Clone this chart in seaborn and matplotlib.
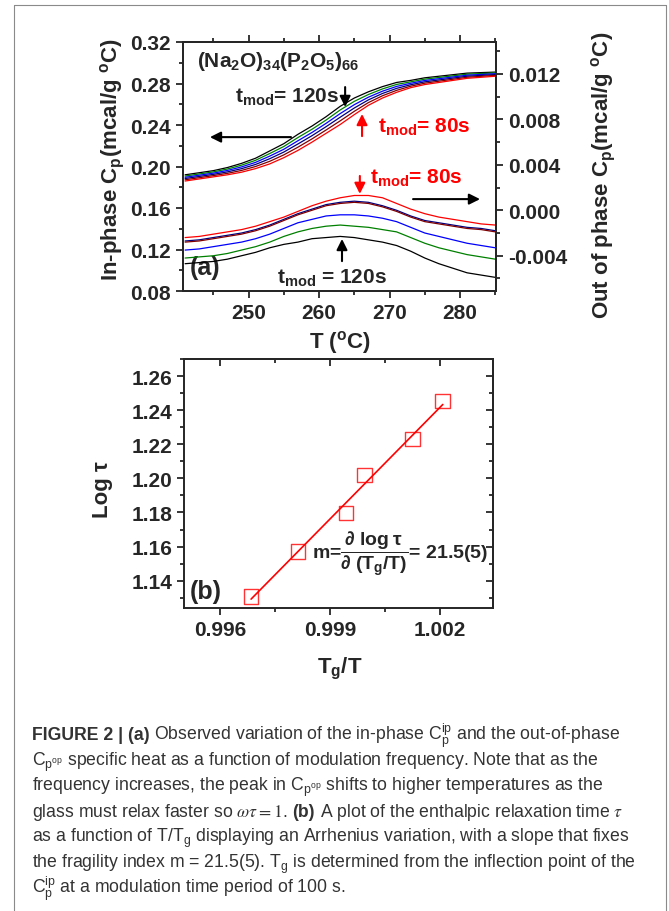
import numpy as np
import pandas as pd
import matplotlib
matplotlib.use("Agg")
import matplotlib.pyplot as plt
import seaborn as sns
from matplotlib.ticker import MultipleLocator, FormatStrFormatter, NullFormatter
from matplotlib.lines import Line2D

# ---------------- DATA ----------------
temp_c = [241, 243, 245, 247, 249, 251, 253, 255, 257, 259, 261, 263,
          265, 267, 269, 271, 273, 275, 277, 279, 281, 283, 285]

runs = ["black", "green", "blue", "navy", "wine", "red"]

# in-phase Cp (mcal/g oC), left axis
ip_black = [.1920, .1940, .1960, .1990, .2030, .2080, .2150, .2220, .2310, .2390, .2480, .2580,
            .2660, .2720, .2770, .2810, .2830, .2855, .2870, .2885, .2900, .2905, .2910]
ip_green = [.1908, .1928, .1948, .1976, .2013, .2060, .2125, .2193, .2279, .2359, .2448, .2545,
            .2628, .2694, .2748, .2791, .2816, .2842, .2858, .2874, .2890, .2896, .2902]
ip_blue = [.1896, .1916, .1936, .1962, .1996, .2040, .2100, .2166, .2248, .2328, .2416, .2510,
           .2596, .2668, .2726, .2772, .2802, .2829, .2846, .2863, .2880, .2887, .2894]
ip_navy = [.1884, .1904, .1924, .1948, .1979, .2020, .2075, .2139, .2217, .2297, .2384, .2475,
           .2564, .2642, .2704, .2753, .2788, .2816, .2834, .2852, .2870, .2878, .2886]
ip_wine = [.1872, .1892, .1912, .1934, .1962, .2000, .2050, .2112, .2186, .2266, .2352, .2440,
           .2532, .2616, .2682, .2734, .2774, .2803, .2822, .2841, .2860, .2869, .2878]
ip_red = [.1860, .1880, .1900, .1920, .1945, .1980, .2025, .2085, .2155, .2235, .2320, .2405,
          .2500, .2590, .2660, .2715, .2760, .2790, .2810, .2830, .2850, .2860, .2870]

# out-of-phase Cp (mcal/g oC), right axis
op_black = [-.0047, -.0046, -.0045, -.0043, -.0040, -.0037, -.0033, -.0030, -.0028, -.0025, -.0024, -.0023,
            -.0024, -.0026, -.0028, -.0031, -.0036, -.0042, -.0047, -.0051, -.0055, -.0057, -.0059]
op_green = [-.0042, -.0041, -.0040, -.0038, -.0035, -.0032, -.0028, -.0023, -.0019, -.0016, -.0014, -.0013,
            -.0014, -.0015, -.0017, -.0019, -.0024, -.0029, -.0033, -.0036, -.0039, -.0041, -.0043]
op_blue = [-.0035, -.0034, -.0032, -.0030, -.0028, -.0025, -.0021, -.0016, -.0011, -.0008, -.0005, -.0004,
           -.0004, -.0005, -.0007, -.0010, -.0015, -.0020, -.0023, -.0026, -.0029, -.0031, -.0033]
op_navy = [-.0027, -.0026, -.0024, -.0022, -.0020, -.0017, -.0013, -.0008, -.0003, .0001, .0005, .0007,
           .0008, .0007, .0004, .0000, -.0005, -.0009, -.0011, -.0013, -.0015, -.0016, -.0018]
op_wine = [-.0028, -.0027, -.0025, -.0023, -.0021, -.0018, -.0014, -.0009, -.0004, .0000, .0004, .0006,
           .0007, .0006, .0003, -.0001, -.0006, -.0010, -.0012, -.0014, -.0016, -.0017, -.0019]
op_red = [-.0024, -.0023, -.0021, -.0019, -.0017, -.0014, -.0010, -.0006, -.0001, .0004, .0008, .0011,
          .0013, .0013, .0011, .0006, .0001, -.0003, -.0006, -.0008, -.0010, -.0012, -.0013]

# panel (b)
tg_over_t = [0.99685, 0.99813, 0.99944, 0.99995, 1.00126, 1.00208]
log_tau = [1.1306, 1.1570, 1.1798, 1.2020, 1.2230, 1.2453]

run_colors = {"black": "#000000", "green": "#008000", "blue": "#0000ff",
              "navy": "#000080", "wine": "#800000", "red": "#ff0000"}

ip_df = pd.DataFrame({
    "T": temp_c * len(runs),
    "cp": ip_black + ip_green + ip_blue + ip_navy + ip_wine + ip_red,
    "run": np.repeat(runs, len(temp_c)),
})
op_df = pd.DataFrame({
    "T": temp_c * len(runs),
    "cp": op_black + op_green + op_blue + op_navy + op_wine + op_red,
    "run": np.repeat(runs, len(temp_c)),
})
b_df = pd.DataFrame({"x": tg_over_t, "y": log_tau})

# ---------------- STYLE ----------------
sns.set_style("ticks")
plt.rcParams["font.family"] = ["Liberation Sans", "DejaVu Sans"]
plt.rcParams["axes.labelweight"] = "bold"
plt.rcParams["mathtext.fontset"] = "stix"
plt.rcParams["axes.linewidth"] = 1.4

W, H = 669, 912
fig = plt.figure(figsize=(W / 100, H / 100), dpi=100)


def rect(l, t, r, b):
    return [l / W, 1 - b / H, (r - l) / W, (b - t) / H]


def style_ticks(ax, direction="out", **kw):
    ax.tick_params(which="both", direction=direction, width=1.3, labelsize=15, **kw)
    ax.tick_params(which="major", length=5)
    ax.tick_params(which="minor", length=3)


TXT = 15
sub = r"$\mathregular{_{mod}}$"

# ---------------- PANEL (a) ----------------
ax1 = fig.add_axes(rect(183, 43, 496, 292))
sns.lineplot(data=ip_df, x="T", y="cp", hue="run", palette=run_colors,
             linewidth=0.9, legend=False, ax=ax1)
ax1.set_xlim(240.7, 285.1)
ax1.set_ylim(0.08, 0.32)
ax1.xaxis.set_major_locator(MultipleLocator(10))
ax1.xaxis.set_minor_locator(MultipleLocator(5))
ax1.yaxis.set_major_locator(MultipleLocator(0.04))
ax1.yaxis.set_minor_locator(MultipleLocator(0.02))
ax1.yaxis.set_major_formatter(FormatStrFormatter("%.2f"))
style_ticks(ax1, top=True)
ax1.set_xlabel(r"T ($\mathregular{^o}$C)", fontsize=16)
ax1.set_ylabel(r"In-phase C$\mathregular{_p}$(mcal/g $\mathregular{^o}$C)", fontsize=16)
ax1.xaxis.set_label_coords(0.502, -0.15)
ax1.yaxis.set_label_coords(-0.18, 0.53)

ax2 = ax1.twinx()
sns.lineplot(data=op_df, x="T", y="cp", hue="run", palette=run_colors,
             linewidth=0.9, legend=False, ax=ax2)
ax2.set_ylim(-0.0071, 0.0148)
ax2.yaxis.set_major_locator(MultipleLocator(0.004))
ax2.yaxis.set_minor_locator(MultipleLocator(0.002))
ax2.yaxis.set_major_formatter(FormatStrFormatter("%.3f"))
style_ticks(ax2)
ax2.set_ylabel(r"Out of phase C$\mathregular{_p}$(mcal/g $\mathregular{^o}$C)", fontsize=16)
ax2.yaxis.set_label_coords(1.30, 0.47)

ax1.text(0.045, 0.924, r"(Na$\mathregular{_2}$O)$\mathregular{_{34}}$(P$\mathregular{_2}$O$\mathregular{_5}$)$\mathregular{_{66}}$",
         transform=ax1.transAxes, fontsize=TXT, fontweight="bold", va="center")
ax1.text(0.166, 0.783, "t" + sub + "= 120s", transform=ax1.transAxes, fontsize=TXT,
         fontweight="bold", va="center")
ax1.text(0.623, 0.663, "t" + sub + "= 80s", transform=ax1.transAxes, fontsize=TXT,
         fontweight="bold", va="center", color="red")
ax1.text(0.597, 0.458, "t" + sub + "= 80s", transform=ax1.transAxes, fontsize=TXT,
         fontweight="bold", va="center", color="red")
ax1.text(0.30, 0.056, "t" + sub + " = 120s", transform=ax1.transAxes, fontsize=TXT,
         fontweight="bold", va="center")
ax1.text(0.022, 0.096, "(a)", transform=ax1.transAxes, fontsize=18, fontweight="bold", va="center")


def arrow(ax, tail, head, color):
    ax.annotate("", xy=head, xytext=tail, xycoords="axes fraction", textcoords="axes fraction",
                arrowprops=dict(arrowstyle="-|>", color=color, lw=1.5, mutation_scale=16,
                                shrinkA=0, shrinkB=0))


arrow(ax1, (0.518, 0.819), (0.518, 0.739), "black")
arrow(ax1, (0.345, 0.618), (0.086, 0.618), "black")
arrow(ax1, (0.572, 0.622), (0.572, 0.711), "red")
arrow(ax1, (0.565, 0.462), (0.565, 0.390), "red")
arrow(ax1, (0.735, 0.369), (0.949, 0.369), "black")
arrow(ax1, (0.508, 0.120), (0.508, 0.209), "black")

# ---------------- PANEL (b) ----------------
ax3 = fig.add_axes(rect(184, 360, 493, 609))
sns.regplot(data=b_df, x="x", y="y", ci=None, color="red", marker="s", ax=ax3,
            scatter_kws={"facecolor": "none", "edgecolor": "red", "s": 110, "linewidths": 1},
            line_kws={"linewidth": 1.2})
ax3.set_xlim(0.99502, 1.00345)
ax3.set_ylim(1.124, 1.27)
ax3.xaxis.set_major_locator(MultipleLocator(0.003))
ax3.xaxis.set_minor_locator(MultipleLocator(0.0015))
ax3.yaxis.set_major_locator(MultipleLocator(0.02))
ax3.yaxis.set_minor_locator(MultipleLocator(0.01))
ax3.xaxis.set_major_formatter(FormatStrFormatter("%.3f"))
ax3.yaxis.set_major_formatter(FormatStrFormatter("%.2f"))
style_ticks(ax3)
ax3.set_xlabel(r"T$\mathregular{_g}$/T", fontsize=16)
ax3.set_ylabel("Log τ", fontsize=16)
ax3.xaxis.set_label_coords(0.505, -0.19)
ax3.yaxis.set_label_coords(-0.23, 0.478)

# mirrored ticks pointing inward on top and right
top3 = ax3.secondary_xaxis("top")
top3.xaxis.set_major_locator(MultipleLocator(0.003))
top3.xaxis.set_minor_locator(MultipleLocator(0.0015))
top3.xaxis.set_major_formatter(NullFormatter())
style_ticks(top3, direction="in")
right3 = ax3.secondary_yaxis("right")
right3.yaxis.set_major_locator(MultipleLocator(0.02))
right3.yaxis.set_minor_locator(MultipleLocator(0.01))
right3.yaxis.set_major_formatter(NullFormatter())
style_ticks(right3, direction="in")

ax3.text(0.02, 0.068, "(b)", transform=ax3.transAxes, fontsize=18, fontweight="bold", va="center")
ax3.text(0.414, 0.221, r"m=$\mathregular{\dfrac{\partial\ log\ \tau}{\partial\ (T_g/T)}}$= 21.5(5)",
         transform=ax3.transAxes, fontsize=14, fontweight="bold", va="center")

for ax in (ax1, ax2, ax3):
    for lab in ax.get_xticklabels() + ax.get_yticklabels():
        lab.set_fontweight("bold")

# ---------------- FRAME ----------------
gray = "#8a8a8a"
fig.add_artist(Line2D([14 / W, 14 / W], [0, 1 - 6 / H], color=gray, lw=0.8))
fig.add_artist(Line2D([666 / W, 666 / W], [0, 1 - 6 / H], color=gray, lw=0.8))
fig.add_artist(Line2D([14 / W, 666 / W], [1 - 6 / H, 1 - 6 / H], color=gray, lw=0.8))

# ---------------- CAPTION ----------------
cap_font = ["Liberation Sans", "DejaVu Sans"]
cap_size = 12.7
cap_color = "#333333"
renderer = fig.canvas.get_renderer()
probe = fig.text(0, 0, "x x", fontsize=cap_size, family=cap_font, fontweight="normal")
w_xx = probe.get_window_extent(renderer).width
probe.set_text("xx")
space_w = w_xx - probe.get_window_extent(renderer).width
probe.remove()

caption = [
    [("FIGURE 2 | (a)", "bold"),
     (r"Observed variation of the in-phase C$\mathregular{^{ip}_p}$ and the out-of-phase", "normal")],
    [(r"C$\mathregular{_{p^{op}}}$ specific heat as a function of modulation frequency. Note that as the", "normal")],
    [(r"frequency increases, the peak in C$\mathregular{_{p^{op}}}$ shifts to higher temperatures as the", "normal")],
    [(r"glass must relax faster so $\omega\tau = 1$.", "normal"), ("(b)", "bold"),
     (r"A plot of the enthalpic relaxation time $\tau$", "normal")],
    [(r"as a function of T/T$\mathregular{_g}$ displaying an Arrhenius variation, with a slope that fixes", "normal")],
    [(r"the fragility index m = 21.5(5). T$\mathregular{_g}$ is determined from the inflection point of the", "normal")],
    [(r"C$\mathregular{^{ip}_p}$ at a modulation time period of 100 s.", "normal")],
]
baselines = [740, 766, 791, 817, 842, 868, 893]
for parts, yb in zip(caption, baselines):
    x = 32
    for s, w in parts:
        t = fig.text(x / W, 1 - yb / H, s, fontsize=cap_size, family=cap_font,
                     fontweight=w, color=cap_color, va="baseline")
        x += t.get_window_extent(renderer).width + space_w

fig.savefig("out.png", dpi=100)
